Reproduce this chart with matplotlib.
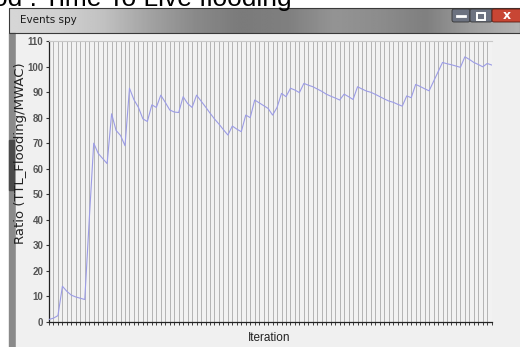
import matplotlib
matplotlib.use('Agg')
import matplotlib.pyplot as plt
from matplotlib.patches import Rectangle, FancyBboxPatch
import numpy as np

# Ratio TTL_Flooding / MWAC for each iteration
ratio = [1.0, 1.5, 2.5, 14.0, 12.0, 10.5, 9.8, 9.3, 8.8, 40.0,
         70.0, 66.0, 64.0, 62.0, 81.5, 75.0, 73.0, 69.0, 91.5, 87.0,
         84.0, 79.5, 78.5, 85.0, 84.0, 88.8, 86.0, 83.0, 82.2, 82.0,
         88.2, 85.5, 84.0, 88.8, 86.5, 84.2, 81.8, 79.5, 77.5, 75.3,
         73.2, 76.7, 75.5, 74.5, 81.0, 80.0, 86.9, 85.8, 84.7, 83.6,
         81.0, 84.0, 89.5, 88.2, 91.5, 90.8, 89.8, 93.4, 92.7, 92.1,
         91.2, 90.3, 89.2, 88.4, 87.7, 86.9, 89.2, 88.2, 87.1, 92.1,
         91.2, 90.4, 89.9, 89.1, 88.2, 87.3, 86.5, 86.0, 85.2, 84.5,
         88.5, 87.8, 93.0, 92.2, 91.3, 90.5, 94.2, 97.9, 101.6, 101.1,
         100.7, 100.2, 99.7, 103.8, 102.8, 101.6, 100.8, 99.9, 101.2, 100.6]
iterations = np.arange(len(ratio))
y_ticks = list(range(0, 111, 10))

W, H = 520, 347
fig = plt.figure(figsize=(W / 100, H / 100), dpi=100)
fig.patch.set_facecolor('white')

# window chrome drawn in pixel coordinates
bg = fig.add_axes([0, 0, 1, 1])
bg.set_xlim(0, W)
bg.set_ylim(H, 0)
bg.axis('off')

# title bar gradient
grad = np.array([0.84, 0.82, 0.76, 0.64, 0.54, 0.48, 0.50, 0.58, 0.55, 0.50, 0.62, 0.70])
bar = np.interp(np.linspace(0, 1, 200), np.linspace(0, 1, len(grad)), grad)
bar = np.tile(bar, (20, 1))
bg.imshow(bar, cmap='gray', vmin=0, vmax=1, extent=[9, W, 33, 8],
          aspect='auto', interpolation='bilinear', zorder=1)
bg.add_patch(Rectangle((9, 8), W - 9, 25, fill=False, ec='#3a3a3a', lw=0.8, zorder=2))
bg.text(20, 20, "Events spy", fontsize=7.5, color='#1a1a1a', va='center',
        family='DejaVu Sans', zorder=3)

# window border and client area
bg.add_patch(Rectangle((9, 33), 6, H - 33, color='#8a8a8a', zorder=1))
bg.add_patch(Rectangle((9, 140), 6, 50, color='#4a4a4a', zorder=1))
bg.add_patch(Rectangle((15, 33), W - 15, H - 33, color='#f0f0f0', ec='#9a9a9a',
                       lw=0.6, zorder=1))

# caption buttons
bg.add_patch(FancyBboxPatch((452, 9), 18, 13, boxstyle='round,pad=0,rounding_size=2',
                            fc='#6c7280', ec='#333', lw=0.6, zorder=3))
bg.add_patch(FancyBboxPatch((470, 9), 22, 13, boxstyle='round,pad=0,rounding_size=2',
                            fc='#6c7280', ec='#333', lw=0.6, zorder=3))
bg.add_patch(FancyBboxPatch((492, 9), 30, 13, boxstyle='round,pad=0,rounding_size=2',
                            fc='#c84634', ec='#5a1a10', lw=0.6, zorder=3))
bg.plot([457, 465], [16, 16], color='white', lw=2, zorder=4)
bg.add_patch(Rectangle((477, 12.5), 8, 7, fill=False, ec='white', lw=1.4, zorder=4))
bg.text(507, 15.5, "x", color='white', fontsize=9, fontweight='bold',
        ha='center', va='center', zorder=4)

# partially visible heading above the window
fig.text(-0.014, 1 - 6 / H, "od : Time To Live flooding", fontsize=19,
         family='Liberation Sans', color='black', va='baseline', ha='left')

# chart
ax = fig.add_axes([49 / W, (H - 322) / H, 442.7 / W, 281 / H])
ax.set_facecolor('#f2f2f2')
ax.plot(iterations, ratio, color='#9c9ce6', lw=0.8, zorder=3)

ax.set_xlim(0, len(ratio) - 1)
ax.set_ylim(0, 110)
ax.set_xticks(iterations)
ax.set_xticklabels([])
ax.set_yticks(y_ticks)
ax.set_yticklabels([str(t) for t in y_ticks], fontsize=7, color='#555555',
                   fontweight='bold', family='Liberation Sans')
ax.tick_params(axis='x', length=2.5, width=0.6, color='#222222', direction='out')
ax.tick_params(axis='y', length=2.5, width=0.8, color='#333333', pad=1.5)
ax.grid(axis='x', color='#aaaaaa', lw=0.6)

ax.spines['right'].set_visible(False)
ax.spines['top'].set_color('#c8c8c8')
ax.spines['top'].set_linewidth(0.8)
for side in ('left', 'bottom'):
    ax.spines[side].set_color('#222222')
    ax.spines[side].set_linewidth(0.9)

fig.text(21 / W, 1 - 153 / H, "Ratio (TTL_Flooding/MWAC)", rotation=90,
         fontsize=9.5, family='DejaVu Sans', color='#222222',
         ha='center', va='center')
fig.text(269 / W, 1 - 338 / H, "Iteration", fontsize=8.5,
         family='Liberation Sans', color='#222222', ha='center', va='center')

fig.savefig('out.png', dpi=100)
